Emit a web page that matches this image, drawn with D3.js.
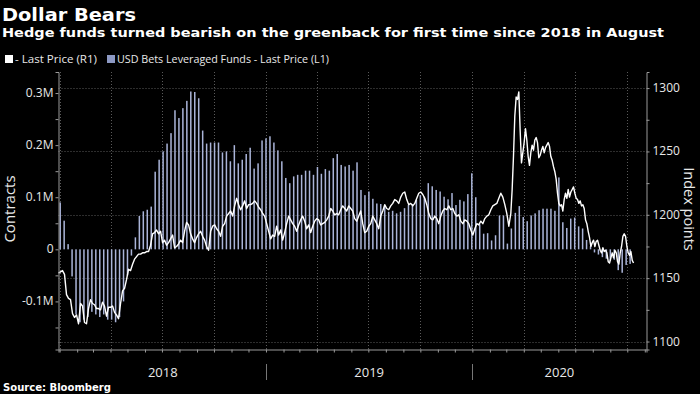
<!DOCTYPE html>
<html>
<head>
<meta charset="utf-8">
<script src="https://cdn.jsdelivr.net/npm/d3@7"></script>
<style>
body { margin: 0; background: #000; }
svg { display: block; }
</style>
</head>
<body>
<div id="chart"></div>
<script>
"use strict";

// weekly leveraged-fund USD bets, in millions of contracts
var betsStart = "2018-01-02";
var betsValues = [
    0.09, 0.055, 0.01, -0.052, -0.125, -0.14, -0.135, -0.13, -0.12, -0.125,
    -0.13, -0.125, -0.135, -0.135, -0.14, -0.13, -0.1, -0.05, -0.012, 0.023,
    0.064, 0.073, 0.076, 0.082, 0.149, 0.172, 0.188, 0.203, 0.223, 0.267,
    0.252, 0.271, 0.285, 0.303, 0.302, 0.29, 0.228, 0.203,
    0.205, 0.205, 0.205, 0.186, 0.188, 0.169, 0.2, 0.165, 0.172, 0.183,
    0.195, 0.155, 0.165, 0.209, 0.213, 0.217, 0.205, 0.19, 0.169, 0.137,
    0.127, 0.14, 0.143, 0.143, 0.151, 0.151, 0.143, 0.158, 0.145, 0.154,
    0.151, 0.175, 0.183, 0.162, 0.159, 0.162, 0.151, 0.167,
    0.114, 0.104, 0.111, 0.097, 0.088, 0.087, 0.083, 0.072, 0.074, 0.069,
    0.072, 0.079, 0.085, 0.087, 0.095, 0.104, 0.101, 0.127, 0.121, 0.114,
    0.111, 0.101, 0.096, 0.108, 0.085, 0.095, 0.092, 0.106, 0.146, 0.1,
    0.048, 0.03, 0.031, 0.017, 0.027, 0.065, 0.065, 0.011,
    0.04, 0.07, 0.083, 0.062, 0.054, 0.065, 0.069, 0.075, 0.078, 0.078,
    0.078, 0.074, 0.138, 0.052, 0.041, 0.059, 0.061, 0.044, 0.04, 0.018,
    0.006, -0.006, -0.01, -0.015, -0.018, -0.022, -0.02, -0.04, -0.045, -0.03,
    -0.028
];

// dollar index, read about every 3.5 days up to March 2020
var priceStartA = "2017-12-30";
var priceStepA = 3.54;
var priceA = [
    1154, 1155, 1156, 1153, 1137, 1134, 1133, 1122, 1119, 1121,
    1114, 1130, 1128, 1115, 1114, 1126, 1133, 1130, 1129, 1126,
    1126, 1125, 1131, 1128, 1120, 1127, 1127, 1128, 1123, 1121,
    1118, 1130, 1140, 1142, 1149, 1157, 1156, 1161, 1165, 1167,
    1169, 1169, 1170, 1170, 1171, 1171, 1176, 1185, 1186, 1188,
    1185, 1187, 1178, 1180, 1176, 1178, 1181, 1184, 1174, 1175,
    1177, 1180, 1178, 1187, 1194, 1192, 1185, 1181, 1178, 1182,
    1185, 1187, 1183, 1180, 1175, 1172,
    1187, 1191, 1192, 1189, 1187, 1183, 1191, 1193, 1199, 1201,
    1203, 1199, 1207, 1213, 1208, 1204, 1207, 1211, 1205, 1208,
    1208, 1209, 1211, 1209, 1206, 1204, 1201, 1199, 1193, 1187,
    1181, 1184, 1183, 1191, 1184, 1188, 1180, 1186, 1193, 1199,
    1196, 1193, 1191, 1187, 1192, 1196, 1199, 1195, 1189, 1192,
    1186, 1191, 1195, 1197, 1196, 1192, 1193, 1194, 1196, 1199,
    1205, 1203, 1200, 1201, 1200, 1204, 1207, 1205, 1203, 1207,
    1205, 1203, 1197, 1195, 1199,
    1203, 1193, 1186, 1187, 1191, 1193, 1199, 1196, 1193, 1189,
    1199, 1203, 1208, 1205, 1204, 1207, 1209, 1212, 1211, 1209,
    1214, 1217, 1218, 1212, 1208, 1209, 1207, 1209, 1213, 1217,
    1218, 1216, 1213, 1208, 1201, 1197, 1196, 1199, 1197, 1193,
    1199, 1203, 1205, 1204, 1207, 1204, 1205, 1201, 1199, 1200,
    1195, 1193, 1196, 1195, 1193, 1188, 1184, 1189, 1193, 1192,
    1195, 1193, 1197, 1199, 1200, 1204, 1207, 1208, 1209, 1213,
    1217, 1214, 1208, 1201, 1191
];

// dollar index from March 2020, read more densely
var priceStartB = "2020-03-09";
var priceStepB = 2.36;
var priceB = [
    1201, 1220, 1246, 1278, 1293, 1291, 1297, 1267, 1241, 1249,
    1257, 1268, 1259, 1246, 1239, 1249, 1255, 1251, 1259, 1261,
    1257, 1245, 1247, 1251, 1254, 1249, 1253, 1255, 1257, 1254,
    1246, 1243, 1238, 1234, 1228, 1217, 1209, 1207, 1208, 1203,
    1212, 1217, 1213, 1220, 1214, 1218, 1220, 1222, 1217, 1213,
    1212, 1209, 1211, 1207, 1208, 1205, 1196, 1193, 1187, 1182,
    1175, 1178, 1180, 1175, 1179, 1180, 1176, 1172, 1170, 1174,
    1171, 1172, 1170, 1163, 1162, 1166, 1170, 1166, 1172, 1170,
    1163, 1161, 1170, 1175, 1183, 1185, 1183, 1175, 1170, 1168,
    1171, 1164, 1162
];

var leftTicks = [-0.1, 0, 0.1, 0.2, 0.3];
var rightTicks = [1100, 1150, 1200, 1250, 1300];
var yearLabels = ["2018", "2019", "2020"];

var w = 700;
var h = 394;
var pLeft = 58.5, pRight = 646.5, pTop = 72, pBottom = 349.5;
var parse = d3.timeParse("%Y-%m-%d");

var bets = betsValues.map(function (v, i) {
    return { date: d3.timeWeek.offset(parse(betsStart), i), value: v };
});
var price = priceA.map(function (v, i) {
    return { date: d3.timeHour.offset(parse(priceStartA), Math.round(i * priceStepA * 24)), value: v };
}).concat(priceB.map(function (v, i) {
    return { date: d3.timeHour.offset(parse(priceStartB), Math.round(i * priceStepB * 24)), value: v };
}));

var x = d3.scaleTime()
    .domain([parse("2017-12-30"), parse("2020-11-04")])
    .range([pLeft, pRight]);

var yL = d3.scaleLinear()
    .domain([-0.1923, 0.3404])
    .range([pBottom, pTop]);

var yR = d3.scaleLinear()
    .domain([1093.7, 1312.7])
    .range([pBottom, pTop]);

var svg = d3.select("#chart")
    .append("svg")
    .attr("width", w)
    .attr("height", h)
    .style("background", "#000");

//Titles
svg.append("text")
    .attr("x", 2).attr("y", 21)
    .attr("textLength", 134).attr("lengthAdjust", "spacingAndGlyphs")
    .style("font", "bold 18px 'DejaVu Sans'")
    .attr("fill", "#fff")
    .text("Dollar Bears");

svg.append("text")
    .attr("x", 2).attr("y", 37)
    .attr("textLength", 662).attr("lengthAdjust", "spacingAndGlyphs")
    .style("font", "bold 12.5px 'DejaVu Sans'")
    .attr("fill", "#fff")
    .text("Hedge funds turned bearish on the greenback for first time since 2018 in August");

//Legend
svg.append("rect").attr("x", 5).attr("y", 55).attr("width", 8).attr("height", 8).attr("fill", "#fff");
svg.append("text")
    .attr("x", 15).attr("y", 63)
    .attr("textLength", 82).attr("lengthAdjust", "spacingAndGlyphs")
    .style("font", "11px 'Open Sans'")
    .attr("fill", "#e8e8e8")
    .text("- Last Price (R1)");
svg.append("rect").attr("x", 107).attr("y", 55).attr("width", 8).attr("height", 8).attr("fill", "#8d99c4");
svg.append("text")
    .attr("x", 117).attr("y", 63)
    .attr("textLength", 212).attr("lengthAdjust", "spacingAndGlyphs")
    .style("font", "11px 'Open Sans'")
    .attr("fill", "#e8e8e8")
    .text("USD Bets Leveraged Funds - Last Price (L1)");

//Grid lines
var grid = svg.append("g")
    .attr("stroke", "#5a5a5a")
    .attr("stroke-width", 1)
    .attr("stroke-dasharray", "1,2");

grid.selectAll("line.h")
    .data(rightTicks)
    .enter()
    .append("line")
    .attr("x1", pLeft).attr("x2", pRight)
    .attr("y1", function (d) { return Math.round(yR(d)) + 0.5; })
    .attr("y2", function (d) { return Math.round(yR(d)) + 0.5; });

grid.selectAll("line.v")
    .data(d3.timeMonth.every(3).range(x.domain()[0], x.domain()[1]))
    .enter()
    .append("line")
    .attr("y1", pTop).attr("y2", pBottom)
    .attr("x1", function (d) { return Math.round(x(d)) + 0.5; })
    .attr("x2", function (d) { return Math.round(x(d)) + 0.5; });

//Bars
svg.append("g")
    .selectAll("rect")
    .data(bets)
    .enter()
    .append("rect")
    .attr("x", function (d) { return x(d.date) - 0.75; })
    .attr("width", 1.5)
    .attr("y", function (d) { return yL(Math.max(0, d.value)); })
    .attr("height", function (d) { return Math.abs(yL(d.value) - yL(0)); })
    .attr("fill", "#aab4d8");

//Line
var line = d3.line()
    .x(function (d) { return x(d.date); })
    .y(function (d) { return yR(d.value); });

svg.append("path")
    .datum(price)
    .attr("d", line)
    .attr("fill", "none")
    .attr("stroke", "#fff")
    .attr("stroke-width", 1.4)
    .attr("stroke-linejoin", "round");

//Axes
var axisColor = "#9a9a9a";

svg.append("g")
    .attr("transform", "translate(" + pLeft + ",0)")
    .call(d3.axisLeft(yL)
        .tickValues(d3.range(-0.15, 0.35, 0.05))
        .tickSize(3)
        .tickFormat(""));

svg.append("g")
    .selectAll("text")
    .data(leftTicks)
    .enter()
    .append("text")
    .attr("x", pLeft - 5)
    .attr("y", function (d) { return yL(d) + 4; })
    .attr("text-anchor", "end")
    .style("font", "12px 'Open Sans'")
    .attr("fill", "#e8e8e8")
    .text(function (d) { return d === 0 ? "0" : d + "M"; });

svg.append("g")
    .attr("transform", "translate(" + pRight + ",0)")
    .call(d3.axisRight(yR)
        .tickValues(d3.range(1100, 1325, 25))
        .tickSize(3)
        .tickFormat(""));

svg.append("g")
    .selectAll("text")
    .data(rightTicks)
    .enter()
    .append("text")
    .attr("x", pRight + 6)
    .attr("y", function (d) { return yR(d) + 4; })
    .style("font", "12px 'Open Sans'")
    .attr("fill", "#e8e8e8")
    .text(function (d) { return d; });

svg.append("g")
    .attr("transform", "translate(0," + pBottom + ")")
    .call(d3.axisBottom(x)
        .ticks(d3.timeMonth.every(1))
        .tickSize(3)
        .tickFormat(""));

svg.selectAll(".domain, .tick line")
    .attr("stroke", axisColor);

//Year separators and labels
var yearStarts = d3.timeYear.range(parse("2018-01-01"), parse("2021-01-01"));

svg.selectAll("line.sep")
    .data(yearStarts.slice(1))
    .enter()
    .append("line")
    .attr("x1", function (d) { return Math.round(x(d)) + 0.5; })
    .attr("x2", function (d) { return Math.round(x(d)) + 0.5; })
    .attr("y1", 364).attr("y2", 380)
    .attr("stroke", "#777");

svg.selectAll("text.year")
    .data(yearStarts)
    .enter()
    .append("text")
    .attr("x", function (d) {
        var a = Math.max(x(d), pLeft);
        var b = Math.min(x(d3.timeYear.offset(d, 1)), pRight);
        return (a + b) / 2;
    })
    .attr("y", 377)
    .attr("text-anchor", "middle")
    .style("font", "13px 'Open Sans'")
    .attr("fill", "#e8e8e8")
    .text(function (d, i) { return yearLabels[i]; });

//Axis titles
svg.append("text")
    .attr("transform", "translate(15,209) rotate(-90)")
    .attr("text-anchor", "middle")
    .style("font", "15px 'Open Sans'")
    .attr("fill", "#e8e8e8")
    .text("Contracts");

svg.append("text")
    .attr("transform", "translate(684,209) rotate(90)")
    .attr("text-anchor", "middle")
    .style("font", "14.5px 'Open Sans'")
    .attr("fill", "#e8e8e8")
    .text("Index points");

//Source
svg.append("text")
    .attr("x", 3).attr("y", 391)
    .attr("textLength", 108).attr("lengthAdjust", "spacingAndGlyphs")
    .style("font", "bold 10px 'DejaVu Sans'")
    .attr("fill", "#fff")
    .text("Source: Bloomberg");
</script>
</body>
</html>
